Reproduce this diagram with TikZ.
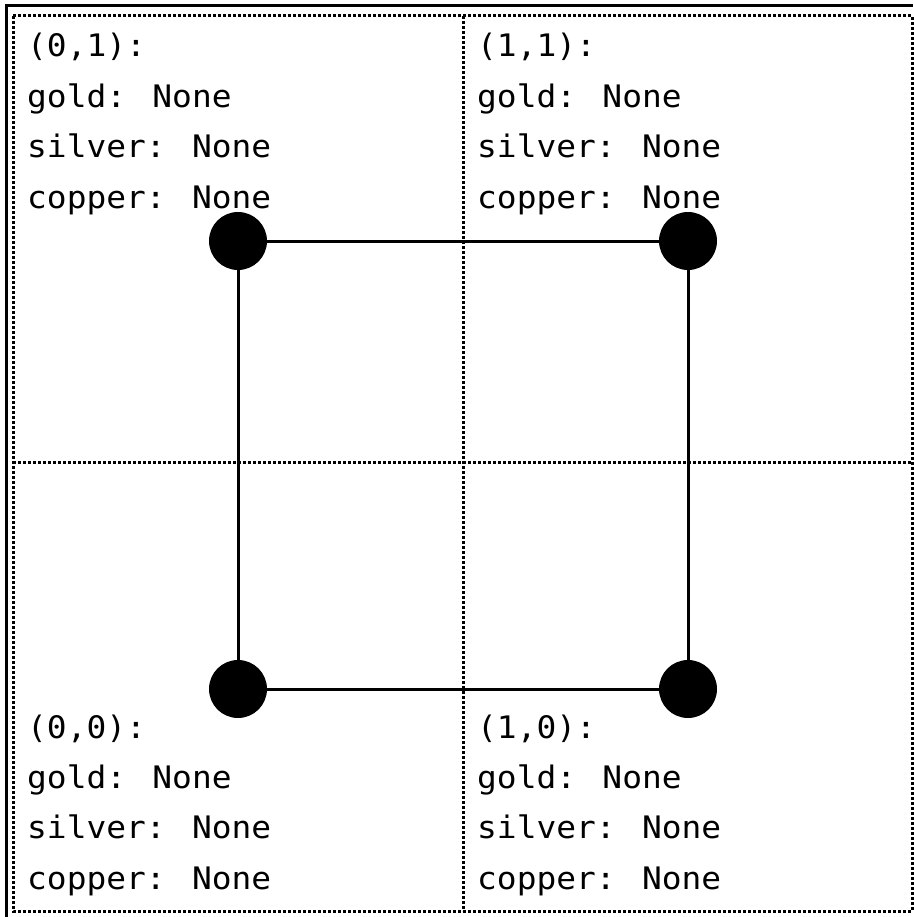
\documentclass[tikz,border=0pt]{standalone}
\usepackage{fontspec}
\newfontfamily\cellfont[FakeStretch=1.06]{DejaVu Sans Mono}

\begin{document}
\begin{tikzpicture}[x=1pt, y=-1pt,
        cellline/.style = {line width=3pt, dash pattern=on 3pt off 2pt, black},
        outerline/.style = {line width=3pt},
        dot/.style = {circle, fill=black, minimum size=58pt, inner sep=0pt},
        ln/.style = {line width=3pt},
        txt/.style = {anchor=base west, inner sep=0pt, font=\cellfont\fontsize{31}{31}\selectfont}]
        \useasboundingbox (0,0) rectangle (913,917);

        % outer frame
        \draw[outerline] (6.5,917) -- (6.5,5.5) -- (913,5.5);

        % cells
        \draw[cellline] (13,16) rectangle (912,911);
        \draw[cellline] (463,16) -- (463,911);
        \draw[cellline] (13,462) -- (912,462);

        \foreach \cx/\cy/\lab/\id in {27/57/{(0,1)}/01, 477/57/{(1,1)}/11, 27/738/{(0,0)}/00, 477/738/{(1,0)}/10} {
            \node[txt] (head\id) at (\cx,\cy) {\lab:};
            \node[txt] (gold\id) at (\cx,\cy+50.3) {gold: None};
            \node[txt] (silver\id) at (\cx,\cy+100.6) {silver: None};
            \node[txt] (copper\id) at (\cx,\cy+151) {copper: None};
        }

        \node[dot] (v01) at (238,241) {};
        \node[dot] (v11) at (688,241) {};
        \node[dot] (v00) at (238,689) {};
        \node[dot] (v10) at (688,689) {};

        \draw[ln] (v01) -- (v11);
        \draw[ln] (v11) -- (v10);
        \draw[ln] (v10) -- (v00);
        \draw[ln] (v00) -- (v01);
    \end{tikzpicture}
\end{document}
